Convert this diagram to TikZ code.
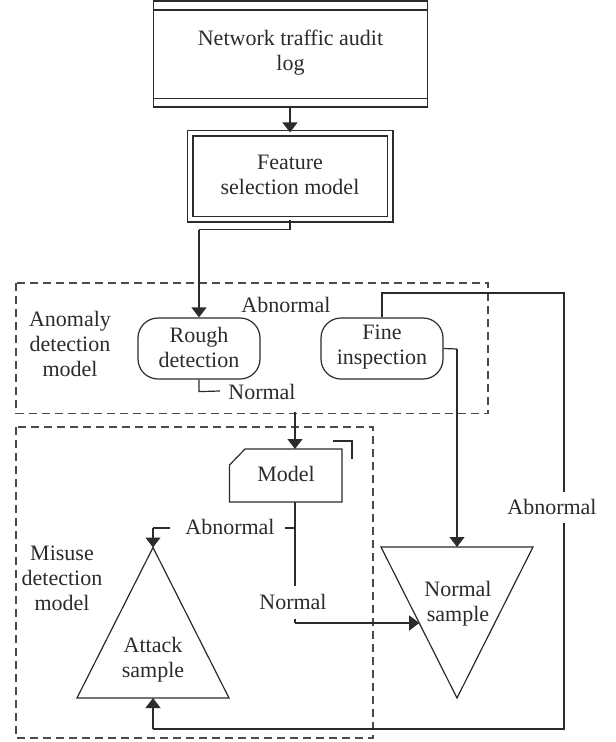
\documentclass[tikz,border=0pt]{standalone}
\usepackage{fontspec}
\setmainfont{Liberation Serif}
\usetikzlibrary{arrows.meta,calc}
\definecolor{ink}{HTML}{2B2B2B}
\definecolor{dashink}{HTML}{4A4A4A}
\begin{document}
\begin{tikzpicture}[x=1pt,y=-1pt,
  line width=1.2pt, draw=ink,
  txt/.style={font=\fontsize{22}{25}\selectfont, text=ink, align=center, inner sep=0pt},
  flow/.style={draw=ink, line width=1.2pt},
  arr/.style={flow, -{Triangle[width=15pt,length=10pt]}},
  group/.style={draw=dashink, line width=1.2pt, dash pattern=on 8pt off 5pt},
  roundbox/.style={draw=ink, rounded corners=20pt, minimum width=122pt, minimum height=61pt, inner sep=0pt},
  plainbox/.style={draw=ink, inner sep=0pt},
]
\useasboundingbox (0,0) rectangle (616,742);

% dashed model groups
\draw[group] (16,283) rectangle (488,413.5);
\draw[group] (16,427) rectangle (373,738);

% audit log box with inner horizontal rules
\node[plainbox, minimum width=274pt, minimum height=106pt] (audit) at (290.5,54) {};
\draw[flow] (153,10) -- (427,10);
\draw[flow] (153,98.5) -- (427,98.5);
\node[txt] (audittxt) at (290.5,52.5) {Network traffic audit\\log};

% feature selection box (double frame)
\node[draw=ink, double=white, double distance=4.6pt, line width=1.2pt,
      minimum width=200pt, minimum height=86pt, inner sep=0pt] (feat) at (290,176) {};
\node[txt] (feattxt) at (290,175) {Feature\\selection model};

% anomaly detection stage
\node[roundbox] (rough) at (199,348.5) {};
\node[txt] at (199,347) {Rough\\detection};
\node[roundbox] (fine) at (382,348.5) {};
\node[txt] at (382,347) {Fine\\inspection};
\node[txt] (anolbl) at (70,344) {Anomaly\\detection\\model};
\node[txt] (abtop) at (286,305) {Abnormal};

% misuse detection stage: clipped-corner model box
\coordinate (mA) at (245,449);
\coordinate (mB) at (342,449);
\coordinate (mC) at (342,502);
\coordinate (mD) at (229.5,502);
\coordinate (mE) at (229.5,465);
\draw[flow] (mA) -- (mB) -- (mC) -- (mD) -- (mE) -- cycle;
\node[txt] (model) at (286,474) {Model};
\coordinate (mtop) at (295,449);
\coordinate (mbot) at (295,502);
\draw[flow] (333,441) -- (352,441) -- (352,459);

\node[txt] (mislbl) at (62,578) {Misuse\\detection\\model};

% attack sample triangle
\coordinate (atk) at (153,547.5);
\coordinate (atkL) at (77,698);
\coordinate (atkR) at (229,698);
\coordinate (atkB) at (153,698);
\draw[flow] (atk) -- (atkR) -- (atkL) -- cycle;
\node[txt] (atktxt) at (153,660) {Attack\\sample};

% normal sample triangle (inverted)
\coordinate (nrmL) at (381,547);
\coordinate (nrmR) at (533,547);
\coordinate (nrmT) at (457,547);
\coordinate (nrm) at (457,698);
\draw[flow] (nrmL) -- (nrmR) -- (nrm) -- cycle;
\node[txt] (nrmtxt) at (458,604) {Normal\\sample};
\coordinate (nrmin) at ($(nrmL)!0.503!(nrm)$);

% labels on connectors
\node[txt] (lblN1) at (262,392) {Normal};
\node[txt] (lblA2) at (230,527) {Abnormal};
\node[txt] (lblN2) at (293,602) {Normal};
\node[txt] (lblA3) at (552,507) {Abnormal};

% connectors
\draw[arr] (audit.south -| feat.north) -- (feat.north);
\draw[flow] (feat.south) -- ++(0,10) coordinate (f1) -- (f1 -| rough.north) coordinate (f2);
\draw[arr] (f2) -- (rough.north);

\draw[flow] (rough.south) -- ++(0,12) coordinate (r1) -- (220,391);
\draw[arr] (295,412) -- (mtop);

\draw[flow] (fine.north) -- (382,293) -- (564,293) -- (564,492);
\draw[flow] (564,523) -- (564,729) -- (atkB |- 0,729) coordinate (b1);
\draw[arr] (b1) -- (atkB);

\draw[flow] (fine.east) -- (457,349) coordinate (fe);
\draw[arr] (fe) -- (nrmT);

\draw[flow] (mbot) -- (295,586);
\draw[flow] (295,528) -- (285,528);
\draw[flow] (170,528) -- (153,528) coordinate (a1);
\draw[arr] (a1) -- (atk);
\draw[flow] (295,619) -- (295,623) coordinate (n1);
\draw[arr] (n1) -- (nrmin |- n1);
\end{tikzpicture}
\end{document}
